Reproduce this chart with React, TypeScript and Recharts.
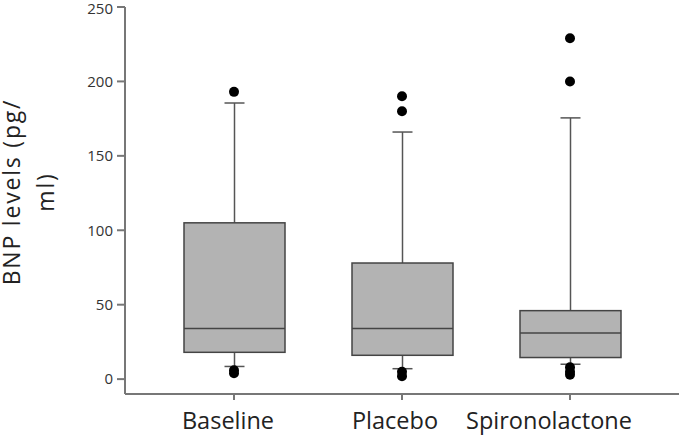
import React from "react";
import { ComposedChart, Bar, Line, XAxis, YAxis } from "recharts";

// BNP levels box plot
const categories = ["Baseline", "Placebo", "Spironolactone"];
const whiskerLow = [8.5, 7, 10];
const q1 = [18, 16, 14.5];
const median = [34, 34, 31];
const q3 = [105, 78, 46];
const whiskerHigh = [185.5, 166, 175.5];
// outliers per category (null = none)
const outlier1 = [193, 190, 229];
const outlier2 = [6, 180, 200];
const outlier3 = [4, 5, 8];
const outlier4 = [null, 2, 5];
const outlier5 = [null, null, 3];
const yTicks = [0, 50, 100, 150, 200, 250];

const data = categories.map((name, i) => ({
  name,
  range: [whiskerLow[i], whiskerHigh[i]],
  lo: whiskerLow[i],
  q1: q1[i],
  med: median[i],
  q3: q3[i],
  hi: whiskerHigh[i],
  o1: outlier1[i],
  o2: outlier2[i],
  o3: outlier3[i],
  o4: outlier4[i],
  o5: outlier5[i],
}));

const BoxShape = (props: any) => {
  const { x, y, width, height, payload } = props;
  const top = Math.min(y, y + height);
  const h = Math.abs(height);
  const { lo, hi } = payload;
  // map value to pixel inside the whisker range the bar covers
  const py = (v: number) => top + ((hi - v) / (hi - lo)) * h;
  const cx = x + width / 2;
  const capW = 20;
  const stroke = "#444";
  return (
    <g>
      <line x1={cx} x2={cx} y1={py(hi)} y2={py(payload.q3)} stroke="#555" strokeWidth={1.5} />
      <line x1={cx} x2={cx} y1={py(payload.q1)} y2={py(lo)} stroke="#555" strokeWidth={1.5} />
      <line x1={cx - capW / 2} x2={cx + capW / 2} y1={py(hi)} y2={py(hi)} stroke="#555" strokeWidth={1.5} />
      <line x1={cx - capW / 2} x2={cx + capW / 2} y1={py(lo)} y2={py(lo)} stroke="#555" strokeWidth={1.5} />
      <rect
        x={x}
        y={py(payload.q3)}
        width={width}
        height={py(payload.q1) - py(payload.q3)}
        fill="#b3b3b3"
        stroke={stroke}
        strokeWidth={1.5}
      />
      <line x1={x} x2={x + width} y1={py(payload.med)} y2={py(payload.med)} stroke={stroke} strokeWidth={1.5} />
    </g>
  );
};

const YLabel = () => (
  <text
    transform="translate(0,192) rotate(-90)"
    textAnchor="middle"
    fontFamily="Open Sans"
    fontSize={23}
    letterSpacing={1.8}
    fill="#222"
  >
    <tspan x={0} y={19.5}>BNP levels (pg/</tspan>
    <tspan x={0} y={54}>ml)</tspan>
  </text>
);

// labels in the original sit a little left of their ticks
const labelShift = [-6, -7, -21];

const XTick = (props: any) => {
  const { x, y, payload, index } = props;
  return (
    <text
      x={x + (labelShift[index] ?? 0)}
      y={y}
      dy="0.71em"
      textAnchor="middle"
      fontFamily="Open Sans"
      fontSize={23.5}
      fill="#222"
    >
      {payload.value}
    </text>
  );
};

const dot = { r: 5, fill: "#000", stroke: "none" };

export default function App() {
  return (
    <div style={{ position: "absolute", left: 0, top: 0, background: "#fff" }}>
      <ComposedChart
        width={680}
        height={440}
        data={data}
        margin={{ top: 7, right: 1, left: 0, bottom: 0 }}
      >
        <XAxis
          dataKey="name"
          padding={{ left: 25, right: 25 }}
          height={46}
          tickSize={6}
          tickMargin={12}
          stroke="#777"
          strokeWidth={2}
          tick={<XTick />}
        />
        <YAxis
          type="number"
          domain={[-10, 250]}
          ticks={yTicks}
          width={125}
          tickSize={8}
          tickMargin={4}
          stroke="#777"
          strokeWidth={2}
          tick={{ fill: "#333", fontSize: 15, fontFamily: "Open Sans" }}
          label={<YLabel />}
        />
        <Bar dataKey="range" barSize={101} shape={<BoxShape />} isAnimationActive={false} />
        {["o1", "o2", "o3", "o4", "o5"].map((k) => (
          <Line
            key={k}
            dataKey={k}
            stroke="none"
            dot={dot}
            activeDot={false}
            isAnimationActive={false}
          />
        ))}
      </ComposedChart>
    </div>
  );
}
